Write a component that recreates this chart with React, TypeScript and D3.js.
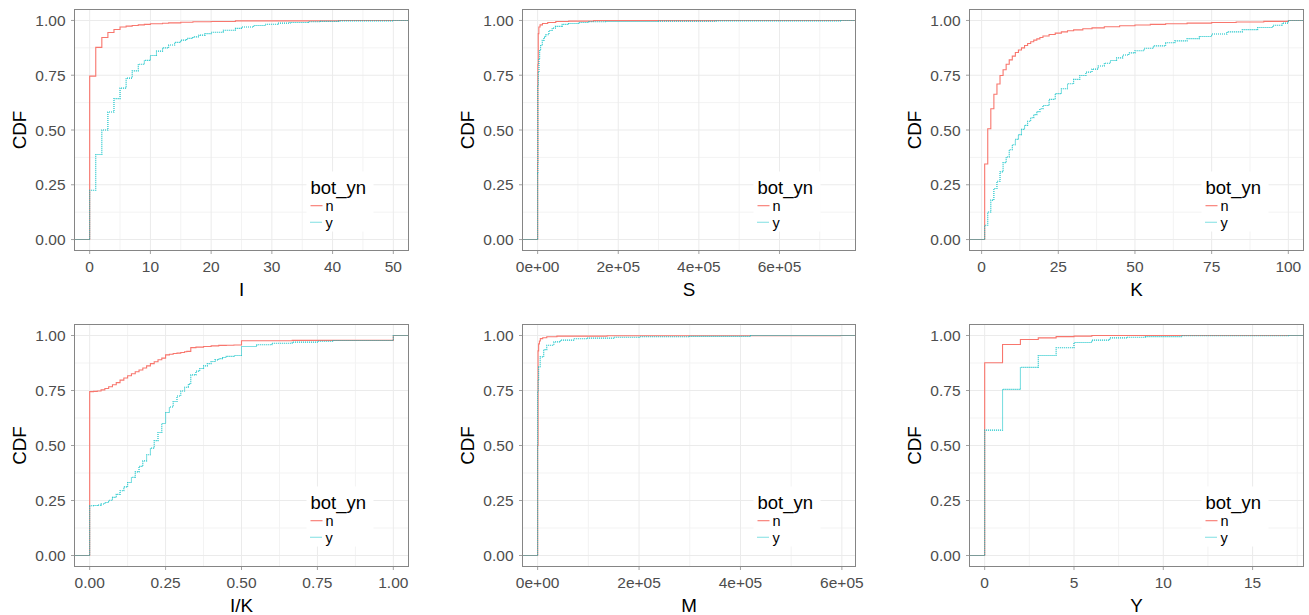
import React from 'react';
import * as d3 from 'd3';

type Pt = [number, number];

// ECDF steps per variable and group: [value, cumulative share from that value on]
const I_N: Pt[] = [
  [0, 0.746], [1, 0.877], [2, 0.922], [3, 0.945], [4, 0.959], [5, 0.970], [6, 0.974],
  [7, 0.977], [8, 0.980], [9, 0.982], [10, 0.985], [12, 0.987], [13, 0.989], [15, 0.992],
  [17, 0.994], [20, 0.995], [24, 0.998], [41, 1.0],
];
const I_Y: Pt[] = [
  [0, 0.225], [1, 0.388], [2, 0.5], [3, 0.582], [4, 0.643], [5, 0.691], [6, 0.737],
  [7, 0.77], [8, 0.8], [9, 0.818], [10, 0.84], [11, 0.86], [12, 0.875], [13, 0.888],
  [14, 0.9], [15, 0.91], [16, 0.918], [17, 0.925], [18, 0.933], [19, 0.94], [20, 0.946],
  [22, 0.955], [24, 0.964], [25, 0.97], [27, 0.977], [29, 0.983], [31, 0.988], [33, 0.991],
  [36, 0.994], [38, 0.996], [41, 0.998], [50, 1.0],
];

const S_N: Pt[] = [
  [0, 0.35], [500, 0.8], [1500, 0.94], [3000, 0.97], [6000, 0.98], [12000, 0.986],
  [25000, 0.991], [45000, 0.995], [77000, 0.997], [139000, 0.999], [443000, 1.0],
];
const S_Y: Pt[] = [
  [0, 0.3], [500, 0.7], [1600, 0.764], [3300, 0.825], [5000, 0.863], [7400, 0.886],
  [11500, 0.909], [15600, 0.924], [20000, 0.935], [28000, 0.954], [36000, 0.965],
  [44000, 0.973], [61000, 0.982], [77000, 0.986], [102000, 0.991], [127000, 0.994],
  [168000, 0.995], [300000, 0.997], [443000, 0.998], [751000, 1.0],
];

const K_N: Pt[] = [
  [1, 0.345], [2, 0.506], [3, 0.597], [4, 0.663], [5, 0.71], [6, 0.749], [7, 0.775],
  [8, 0.8], [9, 0.82], [10, 0.837], [11, 0.854], [12, 0.865], [13, 0.875], [14, 0.886],
  [15, 0.895], [16, 0.903], [17, 0.91], [18, 0.916], [19, 0.922], [20, 0.929], [22, 0.936],
  [24, 0.942], [26, 0.948], [28, 0.953], [30, 0.957], [33, 0.962], [36, 0.966], [40, 0.971],
  [45, 0.976], [50, 0.979], [55, 0.982], [60, 0.985], [67, 0.988], [75, 0.991], [83, 0.993],
  [92, 0.996], [100, 1.0],
];
const K_Y: Pt[] = [
  [1, 0.065], [2, 0.126], [3, 0.18], [4, 0.233], [5, 0.266], [6, 0.309], [7, 0.351],
  [8, 0.377], [9, 0.41], [10, 0.433], [11, 0.457], [12, 0.479], [13, 0.503], [14, 0.521],
  [15, 0.54], [16, 0.556], [17, 0.57], [18, 0.584], [19, 0.597], [20, 0.612], [22, 0.64],
  [24, 0.666], [26, 0.688], [28, 0.711], [30, 0.731], [32, 0.749], [34, 0.764], [36, 0.778],
  [38, 0.792], [40, 0.805], [42, 0.817], [44, 0.829], [46, 0.842], [48, 0.852], [50, 0.862],
  [53, 0.873], [56, 0.884], [60, 0.898], [63, 0.907], [67, 0.917], [71, 0.927], [75, 0.938],
  [80, 0.948], [85, 0.958], [90, 0.968], [95, 0.978], [98, 0.988], [100, 1.0],
];

const IK_N: Pt[] = [
  [0, 0.745], [0.0125, 0.746], [0.025, 0.748], [0.0375, 0.753], [0.05, 0.759],
  [0.0625, 0.767], [0.075, 0.776], [0.0875, 0.786], [0.1, 0.797], [0.1125, 0.807],
  [0.125, 0.817], [0.1375, 0.826], [0.15, 0.835], [0.1625, 0.843], [0.175, 0.852],
  [0.1875, 0.862], [0.2, 0.872], [0.2125, 0.881], [0.225, 0.89], [0.2375, 0.897],
  [0.25, 0.912], [0.2625, 0.915], [0.275, 0.918], [0.2875, 0.92], [0.3, 0.923],
  [0.3125, 0.926], [0.32, 0.928], [0.333, 0.945], [0.35, 0.947], [0.375, 0.95],
  [0.4, 0.953], [0.425, 0.955], [0.45, 0.956], [0.475, 0.957], [0.5, 0.976], [0.667, 0.978],
  [1, 1.0],
];
const IK_Y: Pt[] = [
  [0, 0.226], [0.0125, 0.227], [0.025, 0.229], [0.0375, 0.234], [0.05, 0.241],
  [0.0625, 0.251], [0.075, 0.264], [0.0875, 0.278], [0.1, 0.294], [0.1125, 0.312],
  [0.125, 0.332], [0.1375, 0.355], [0.15, 0.38], [0.1625, 0.405], [0.175, 0.43],
  [0.1875, 0.458], [0.2, 0.488], [0.2125, 0.522], [0.225, 0.559], [0.2375, 0.6], [0.25, 0.65],
  [0.2625, 0.675], [0.275, 0.7], [0.2875, 0.725], [0.3, 0.748], [0.3125, 0.765],
  [0.325, 0.779], [0.333, 0.821], [0.35, 0.838], [0.3625, 0.85], [0.375, 0.862],
  [0.3875, 0.872], [0.4, 0.882], [0.4125, 0.889], [0.425, 0.895], [0.4375, 0.9],
  [0.45, 0.905], [0.475, 0.909], [0.5, 0.95], [0.55, 0.958], [0.6, 0.965], [0.667, 0.97],
  [0.75, 0.974], [0.8, 0.977], [1, 1.0],
];

const M_N: Pt[] = [
  [0, 0.5], [800, 0.93], [2000, 0.962], [3500, 0.975], [5300, 0.986], [10000, 0.99],
  [18000, 0.994], [38000, 0.997], [137000, 0.999], [597000, 1.0],
];
const M_Y: Pt[] = [
  [0, 0.745], [1000, 0.8], [2000, 0.858], [5000, 0.903], [12000, 0.936], [18000, 0.956],
  [32000, 0.971], [45000, 0.979], [71000, 0.985], [97000, 0.988], [150000, 0.992],
  [200000, 0.994], [300000, 0.996], [420000, 1.0],
];

const Y_N: Pt[] = [[0, 0.876], [1, 0.959], [2, 0.982], [3, 0.989], [4, 0.995], [5, 0.997], [6, 1.0]];
const Y_Y: Pt[] = [
  [0, 0.57], [1, 0.755], [2, 0.855], [3, 0.909], [4, 0.944], [5, 0.968], [6, 0.979],
  [7, 0.989], [8, 0.992], [9, 0.995], [11, 0.999], [17, 1.0],
];

// Axis breaks and labels
const CDF_BREAKS = [0, 0.25, 0.5, 0.75, 1];
const CDF_LABELS = ['0.00', '0.25', '0.50', '0.75', '1.00'];
const I_BREAKS = [0, 10, 20, 30, 40, 50];
const I_LABELS = ['0', '10', '20', '30', '40', '50'];
const S_BREAKS = [0, 200000, 400000, 600000];
const S_LABELS = ['0e+00', '2e+05', '4e+05', '6e+05'];
const K_BREAKS = [0, 25, 50, 75, 100];
const K_LABELS = ['0', '25', '50', '75', '100'];
const IK_BREAKS = [0, 0.25, 0.5, 0.75, 1];
const IK_LABELS = ['0.00', '0.25', '0.50', '0.75', '1.00'];
const M_BREAKS = [0, 200000, 400000, 600000];
const M_LABELS = ['0e+00', '2e+05', '4e+05', '6e+05'];
const Y_BREAKS = [0, 5, 10, 15];
const Y_LABELS = ['0', '5', '10', '15'];

const GROUPS = ['n', 'y'];
const GROUP_COLORS = ['#F8766D', '#00BFC4'];
const GROUP_DASH = [undefined, '1 1'];
const LEGEND_TITLE = 'bot_yn';
const Y_TITLE = 'CDF';

interface PanelSpec {
  title: string;
  series: Pt[][];
  breaks: number[];
  labels: string[];
}

const PANELS: PanelSpec[] = [
  { title: 'I', series: [I_N, I_Y], breaks: I_BREAKS, labels: I_LABELS },
  { title: 'S', series: [S_N, S_Y], breaks: S_BREAKS, labels: S_LABELS },
  { title: 'K', series: [K_N, K_Y], breaks: K_BREAKS, labels: K_LABELS },
  { title: 'I/K', series: [IK_N, IK_Y], breaks: IK_BREAKS, labels: IK_LABELS },
  { title: 'M', series: [M_N, M_Y], breaks: M_BREAKS, labels: M_LABELS },
  { title: 'Y', series: [Y_N, Y_Y], breaks: Y_BREAKS, labels: Y_LABELS },
];

const WIDTH = 1309;
const HEIGHT = 615;
const COL_LEFT = [74.5, 522.5, 969.5];
const COL_RIGHT = [408.5, 855.5, 1303.5];
const ROW_TOP = [9.5, 324.5];
const ROW_BOTTOM = [250.5, 566.5];

const FONT = '"Liberation Sans", Arial, Helvetica, sans-serif';
const TICK_SIZE = 15.5;
const TITLE_SIZE = 18.8;
const LEGEND_TITLE_SIZE = 18.5;
const LEGEND_LABEL_SIZE = 14.5;
const TEXT_GREY = '#4D4D4D';
const GRID = '#EBEBEB';
const GRID_MINOR = '#F3F3F3';
const BORDER = '#858585';

function minorBreaks(breaks: number[], lo: number, hi: number): number[] {
  const out: number[] = [];
  const step = breaks[1] - breaks[0];
  const cands = [breaks[0] - step / 2, ...breaks.map((b) => b + step / 2)];
  cands.forEach((c) => {
    if (c >= lo && c <= hi && !breaks.includes(c)) out.push(c);
  });
  return out;
}

function Panel({ spec, left, right, top, bottom }: { spec: PanelSpec; left: number; right: number; top: number; bottom: number }) {
  const xs = spec.series.flatMap((s) => s.map((d) => d[0]));
  const [lo, hi] = d3.extent(xs) as [number, number];
  const pad = (hi - lo) * 0.05;
  const x = d3.scaleLinear().domain([lo - pad, hi + pad]).range([left, right]);
  const y = d3.scaleLinear().domain([-0.05, 1.05]).range([bottom, top]);
  const [d0, d1] = x.domain();
  const xMinor = minorBreaks(spec.breaks, d0, d1);
  const yMinor = minorBreaks(CDF_BREAKS, -0.05, 1.05);
  const line = d3
    .line<Pt>()
    .x((d) => x(d[0]))
    .y((d) => y(d[1]))
    .curve(d3.curveStepAfter);

  const legendX = right - 98;
  const legendY = top + 171;
  const labelBase = [legendY + 30.5, legendY + 47];

  return (
    <g>
      <rect x={left} y={top} width={right - left} height={bottom - top} fill="#FFFFFF" />
      {xMinor.map((v) => (
        <line key={'xm' + v} x1={x(v)} x2={x(v)} y1={top} y2={bottom} stroke={GRID_MINOR} strokeWidth={1} />
      ))}
      {yMinor.map((v) => (
        <line key={'ym' + v} x1={left} x2={right} y1={y(v)} y2={y(v)} stroke={GRID_MINOR} strokeWidth={1} />
      ))}
      {spec.breaks.map((v) => (
        <line key={'xg' + v} x1={x(v)} x2={x(v)} y1={top} y2={bottom} stroke={GRID} strokeWidth={1} />
      ))}
      {CDF_BREAKS.map((v) => (
        <line key={'yg' + v} x1={left} x2={right} y1={y(v)} y2={y(v)} stroke={GRID} strokeWidth={1} />
      ))}

      {spec.series.map((s, i) => (
        <path
          key={'s' + i}
          d={line([[d0, 0], ...s, [d1, 1]]) || ''}
          fill="none"
          stroke={GROUP_COLORS[i]}
          strokeWidth={1.1}
          strokeDasharray={GROUP_DASH[i]}
        />
      ))}

      {/* legend box inside the panel */}
      <rect x={legendX - 4} y={legendY - 9} width={67} height={60} fill="#FFFFFF" />
      <text x={legendX} y={legendY + 13} fontFamily={FONT} fontSize={LEGEND_TITLE_SIZE} fill="#000000">
        {LEGEND_TITLE}
      </text>
      {GROUPS.map((g, i) => (
        <g key={'lg' + g}>
          <line
            x1={legendX}
            x2={legendX + 12}
            y1={labelBase[i] - 5.3}
            y2={labelBase[i] - 5.3}
            stroke={GROUP_COLORS[i]}
            strokeWidth={1.1}
            strokeDasharray={GROUP_DASH[i]}
          />
          <text x={legendX + 15} y={labelBase[i]} fontFamily={FONT} fontSize={LEGEND_LABEL_SIZE} fill="#000000">
            {g}
          </text>
        </g>
      ))}

      <rect x={left} y={top} width={right - left} height={bottom - top} fill="none" stroke={BORDER} strokeWidth={1} />

      {/* y axis */}
      {CDF_BREAKS.map((v, i) => (
        <g key={'yt' + v}>
          <line x1={left - 3.5} x2={left} y1={y(v)} y2={y(v)} stroke="#8A8A8A" strokeWidth={0.8} />
          <text
            x={left - 9}
            y={y(v)}
            dy="0.36em"
            textAnchor="end"
            fontFamily={FONT}
            fontSize={TICK_SIZE}
            fill={TEXT_GREY}
          >
            {CDF_LABELS[i]}
          </text>
        </g>
      ))}
      <text
        transform={`translate(${left - 48.5},${(top + bottom) / 2}) rotate(-90)`}
        textAnchor="middle"
        fontFamily={FONT}
        fontSize={TITLE_SIZE}
        fill="#000000"
      >
        {Y_TITLE}
      </text>

      {/* x axis */}
      {spec.breaks.map((v, i) => (
        <g key={'xt' + v}>
          <line x1={x(v)} x2={x(v)} y1={bottom} y2={bottom + 3.5} stroke="#8A8A8A" strokeWidth={0.8} />
          <text
            x={x(v)}
            y={bottom + 21.5}
            textAnchor="middle"
            fontFamily={FONT}
            fontSize={TICK_SIZE}
            fill={TEXT_GREY}
          >
            {spec.labels[i]}
          </text>
        </g>
      ))}
      <text
        x={(left + right) / 2}
        y={bottom + 45.5}
        textAnchor="middle"
        fontFamily={FONT}
        fontSize={TITLE_SIZE}
        fill="#000000"
      >
        {spec.title}
      </text>
    </g>
  );
}

export default function App() {
  return (
    <svg
      width={WIDTH}
      height={HEIGHT}
      viewBox={`0 0 ${WIDTH} ${HEIGHT}`}
      style={{ position: 'absolute', left: 0, top: 0, background: '#FFFFFF' }}
    >
      <rect x={0} y={0} width={WIDTH} height={HEIGHT} fill="#FFFFFF" />
      {PANELS.map((p, i) => {
        const col = i % 3;
        const row = Math.floor(i / 3);
        return (
          <Panel
            key={p.title}
            spec={p}
            left={COL_LEFT[col]}
            right={COL_RIGHT[col]}
            top={ROW_TOP[row]}
            bottom={ROW_BOTTOM[row]}
          />
        );
      })}
    </svg>
  );
}
